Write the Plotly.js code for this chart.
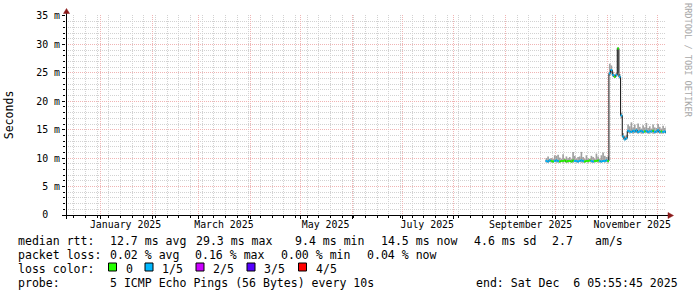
<!DOCTYPE html>
<html><head><meta charset="utf-8">
<script src="https://cdn.plot.ly/plotly-3.0.1.min.js"></script>
<style>html,body{margin:0;padding:0;background:#fff}#chart{width:697px;height:297px}</style>
</head><body><div id="chart"></div>
<script>
// ---- data ----
const firstDay = '2025-09-25';          // first daily sample
const median = [
  9.5,9.4,9.6,9.5,9.4,9.5,9.6,9.5,9.4,9.5, 9.5,9.6,9.4,9.5,9.5,9.4,9.6,9.5,9.5,9.4,
  9.5,9.6,9.5,9.4,9.5,9.5,9.6,9.5,9.4,9.5, 9.5,9.6,9.5,9.4,9.5,9.5,9.6,9.5,
  24.9,25.5,24.6,24.3,24.6,29.3,24.3,17.5,13.8,13.3,13.5,14.8,
  14.7,14.6,14.8,14.7,14.9,14.6,14.7,14.8,14.6,14.7, 14.8,14.6,14.7,14.7,14.8,14.6,14.7,14.9,14.6,14.7,
  14.6,14.7,14.5];
const smokeMax = [
  10.0,10.3,9.9,10.0,9.9,10.5,10.4,10.6,10.1,9.9, 10.7,9.9,10.3,10.0,10.2,9.9,11.1,10.4,9.9,10.2,
  10.3,11.1,10.2,9.9,10.5,10.0,9.9,10.4,10.2,9.9, 10.8,10.3,9.9,10.5,11.0,10.4,10.2,10.3,
  26.6,26.3,25.2,24.8,25.0,29.5,24.8,18.0,14.4,13.9,14.1,15.9,
  15.6,16.3,15.4,15.9,15.3,16.1,15.5,15.2,15.8,15.4, 16.2,15.3,15.6,15.2,15.9,15.4,15.3,16.0,15.5,15.2,
  15.7,15.3,15.6];
const smokeMin = [
  9.2,9.2,9.3,9.2,9.2,9.3,9.2,9.2,9.2,9.3, 9.2,9.3,9.2,9.2,9.3,9.2,9.2,9.3,9.2,9.2,
  9.3,9.2,9.2,9.2,9.3,9.2,9.3,9.2,9.2,9.2, 9.3,9.2,9.2,9.2,9.3,9.2,9.3,9.2,
  24.5,25.0,24.3,24.1,24.3,25.0,24.0,17.0,13.5,13.1,13.2,14.4,
  14.3,14.4,14.3,14.4,14.4,14.3,14.4,14.3,14.3,14.4, 14.4,14.3,14.3,14.4,14.3,14.3,14.4,14.4,14.3,14.3,
  14.3,14.4,14.3];
const lossLevel = [   // index into lossColors (0 = no loss, 1 = 1/5)
  1,1,1,0,0,1,1,1,0,0, 0,0,0,0,0,0,0,1,1,1,
  1,1,1,0,0,0,0,1,1,0, 0,0,1,1,1,1,1,0,
  1,1,1,0,1,0,1,1,1,1,1,1,
  1,1,1,1,1,1,1,1,1,0, 1,1,1,1,0,1,1,1,1,0,
  1,1,1];
const lossColors = ['#26ff00','#00b8ff','#cc00ff','#5500ff','#ff0000'];
const lossLabels = ['0','1/5','2/5','3/5','4/5'];
const monthLabels = ['January 2025','March 2025','May 2025','July 2025','September 2025','November 2025'];
const monthLabelDates = ['2025-01-16','2025-03-16','2025-05-16','2025-07-16','2025-09-16','2025-11-16'];
const yTickVals = [0,5,10,15,20,25,30,35];
const yTickText = ['0\u00a0\u00a0','5 m','10 m','15 m','20 m','25 m','30 m','35 m'];
const rangeStart = '2024-12-11 05:55:45';
const rangeEnd = '2025-12-06 05:55:45';
const statsLine1 = ['median rtt:','12.7 ms avg','29.3 ms max','9.4 ms min','14.5 ms now','4.6 ms sd','2.7','am/s'];
const statsLine2 = ['packet loss:','0.02 % avg','0.16 % max','0.00 % min','0.04 % now'];
const probeText = ['probe:','5 ICMP Echo Pings (56 Bytes) every 10s','end: Sat Dec \u00a06 05:55:45 2025'];

// ---- helpers ----
const DAY = 86400000;
const fmt = ms => new Date(ms).toISOString().slice(0,19).replace('T',' ');
const t0 = Date.parse(firstDay + 'T00:00:00Z');
const times = median.map((_, i) => t0 + i * DAY);

const monthStarts = [];
for (let m = 0; m < 12; m++) monthStarts.push(fmt(Date.UTC(2025, m, 1)));
const mondays = [];
for (let t = Date.UTC(2024, 11, 16); t <= Date.UTC(2025, 11, 6); t += 7 * DAY) mondays.push(fmt(t));

const L = 66, W = 600, B = 215, H = 200;
const px = x => (x - L) / W;
const py = y => (B - y) / H;

// ---- traces ----
const traces = [];
traces.push({
  type: 'bar', x: times.map(t => fmt(t + DAY / 2)), base: smokeMin,
  y: smokeMax.map((v, i) => v - smokeMin[i]), width: DAY,
  marker: { color: '#a0a0a0', line: { width: 0 } }, hoverinfo: 'skip'
});
traces.push({
  type: 'scatter', mode: 'lines',
  x: times.map(fmt).concat([fmt(times[times.length - 1] + DAY)]),
  y: median.concat([median[median.length - 1]]),
  line: { color: '#111', width: 1, shape: 'hv' }, hoverinfo: 'skip'
});
lossColors.forEach((c, lvl) => {
  const xs = [], ys = [];
  median.forEach((v, i) => {
    if (lossLevel[i] === lvl) { xs.push(fmt(times[i]), fmt(times[i] + DAY), null); ys.push(v, v, null); }
  });
  if (xs.length) traces.push({ type: 'scatter', mode: 'lines', x: xs, y: ys,
    line: { color: c, width: 2 }, connectgaps: false, hoverinfo: 'skip' });
});
// carrier for the month-label axis
traces.push({ type: 'scatter', mode: 'lines', xaxis: 'x2', x: [rangeStart], y: [null], hoverinfo: 'skip' });

// ---- annotations / shapes ----
const mono = 'DejaVu Sans Mono';
const ann = [];
const txt = (x, y, text, size, extra) => ann.push(Object.assign({
  xref: 'paper', yref: 'paper', x: px(x), y: py(y), text, showarrow: false,
  xanchor: 'left', yanchor: 'middle', font: { family: mono, size: size, color: '#000' }
}, extra || {}));

const l1x = [16, 107.6, 194, 293, 379, 472, 550, 593];
statsLine1.forEach((s, i) => txt(l1x[i], 241, s, 11.55));
const l2x = [16, 107.6, 193, 279, 365];
statsLine2.forEach((s, i) => txt(l2x[i], 255, s, 11.55));
txt(16, 268.5, 'loss color:', 11.55);
const boxX = [108.5, 145, 196, 247, 298.5];
const shapes = [];
lossLabels.forEach((s, i) => {
  txt(boxX[i] + 15, 268.5, s, 11.55);
  shapes.push({ type: 'rect', xref: 'paper', yref: 'paper', x0: px(boxX[i]), x1: px(boxX[i] + 8),
    y0: py(271), y1: py(263), fillcolor: lossColors[i], line: { color: '#000', width: 1 } });
});
txt(16, 283, probeText[0], 11.55);
txt(107.6, 283, probeText[1], 11.55);
txt(680, 283, probeText[2], 11.55, { xanchor: 'right' });
txt(688, 60, 'RRDTOOL / TOBI OETIKER', 8.6, { xanchor: 'center', textangle: 90, font: { family: mono, size: 8.6, color: '#a8a8a8' } });

// axis extensions and arrows
const arrowC = '#8b1a1a';
shapes.push({ type: 'line', xref: 'paper', yref: 'paper', x0: px(66.5), x1: px(66.5), y0: py(219), y1: py(11), line: { color: '#000', width: 1 } });
shapes.push({ type: 'line', xref: 'paper', yref: 'paper', x0: px(62), x1: px(669), y0: py(215.5), y1: py(215.5), line: { color: '#000', width: 1 } });
shapes.push({ type: 'path', xref: 'paper', yref: 'paper', fillcolor: arrowC, line: { color: arrowC, width: 0.5 },
  path: `M ${px(63.5)} ${py(13.5)} L ${px(66.5)} ${py(8.5)} L ${px(69.5)} ${py(13.5)} Z` });
shapes.push({ type: 'path', xref: 'paper', yref: 'paper', fillcolor: arrowC, line: { color: arrowC, width: 0.5 },
  path: `M ${px(668)} ${py(212.5)} L ${px(673.5)} ${py(215.5)} L ${px(668)} ${py(218.5)} Z` });

const redGrid = '#f0b4b4', grayGrid = '#d2d2d2';
const layout = {
  width: 697, height: 297, margin: { l: L, r: 697 - L - W, t: B - H, b: 297 - B, pad: 0 },
  paper_bgcolor: '#ffffff', plot_bgcolor: '#ffffff', showlegend: false,
  font: { family: mono, size: 9.9, color: '#000' },
  barmode: 'overlay',
  xaxis: {
    type: 'date', range: [rangeStart, rangeEnd], fixedrange: true,
    tickmode: 'array', tickvals: monthStarts, showticklabels: false,
    showgrid: true, gridcolor: redGrid, griddash: '1px,1px', gridwidth: 1,
    ticks: 'outside', ticklen: 3, tickcolor: '#000', showline: false, zeroline: false,
    minor: { tickmode: 'array', tickvals: mondays, showgrid: true, gridcolor: grayGrid, griddash: '1px,1px',
      ticks: 'outside', ticklen: 2, tickcolor: '#000' }
  },
  xaxis2: {
    type: 'date', overlaying: 'x', side: 'bottom', range: [rangeStart, rangeEnd], fixedrange: true,
    tickmode: 'array', tickvals: monthLabelDates, ticktext: monthLabels,
    showgrid: false, ticks: '', showline: false, zeroline: false, ticklabelstandoff: 2,
    tickfont: { family: mono, size: 9.9, color: '#000' }
  },
  yaxis: {
    range: [0, 35.17], fixedrange: true, tickmode: 'array', tickvals: yTickVals, ticktext: yTickText,
    showgrid: true, gridcolor: redGrid, griddash: '1px,1px', gridwidth: 1, zeroline: false,
    ticks: 'outside', ticklen: 3, tickcolor: '#000', showline: false,
    tickfont: { family: mono, size: 9.9, color: '#000' },
    minor: { dtick: 1, showgrid: true, gridcolor: grayGrid, griddash: '1px,1px', ticks: 'outside', ticklen: 2, tickcolor: '#000' },
    title: { text: 'Seconds', font: { family: mono, size: 11.55, color: '#000' }, standoff: 20 }
  },
  annotations: ann, shapes: shapes
};
Plotly.newPlot('chart', traces, layout, { staticPlot: true, displayModeBar: false });
</script></body></html>
